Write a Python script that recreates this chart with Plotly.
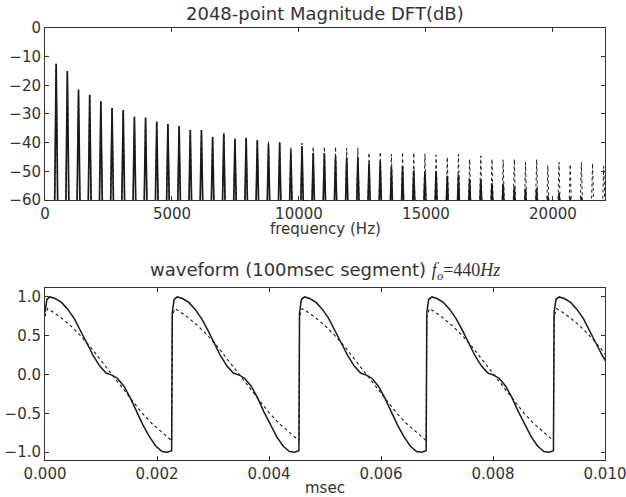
import plotly.graph_objects as go
from plotly.subplots import make_subplots

# ---------------- data ----------------
harmonic_hz = [440, 880, 1320, 1760, 2200, 2640, 3080, 3520, 3960, 4400,
               4840, 5280, 5720, 6160, 6600, 7040, 7480, 7920, 8360, 8800,
               9240, 9680, 10120, 10560, 11000, 11440, 11880, 12320, 12760, 13200,
               13640, 14080, 14520, 14960, 15400, 15840, 16280, 16720, 17160, 17600,
               18040, 18480, 18920, 19360, 19800, 20240, 20680, 21120, 21560, 22000]

solid_db = [-12.5, -15.0, -21.5, -23.3, -25.6, -27.9, -28.6, -31.0, -31.2, -32.6,
            -33.5, -34.2, -35.6, -35.6, -38.1, -36.7, -38.8, -38.3, -39.1, -40.6,
            -40.0, -42.9, -41.2, -43.5, -43.6, -44.8, -45.2, -45.1, -47.2, -46.7,
            -48.5, -48.4, -49.6, -50.1, -49.9, -51.6, -51.1, -52.8, -53.0, -54.2,
            -54.5, -55.3, -56.0, -55.9, -58.5, -57.6, -59.0, -58.8, -61.0, -62.0]

dotted_db = [-12.8, -15.3, -21.8, -23.5, -25.9, -28.2, -28.9, -31.3, -31.5, -32.9,
             -33.8, -34.5, -35.9, -35.9, -38.0, -37.0, -38.5, -38.5, -39.0, -39.5,
             -39.9, -41.4, -40.2, -41.4, -41.4, -41.4, -41.9, -41.8, -43.5, -43.2,
             -44.0, -43.3, -43.5, -43.9, -44.3, -45.1, -44.1, -45.8, -44.6, -45.7,
             -46.0, -45.8, -46.9, -45.9, -48.0, -46.8, -47.5, -46.9, -47.2, -48.2]

# waveform: jump instants and one period shape (phase of period -> amplitude)
period_starts = [0.0, 0.002273, 0.004545, 0.006818, 0.009091]
period_len = 0.002273
solid_phase = [0.0, 0.015, 0.04, 0.08, 0.13, 0.18, 0.23, 0.28, 0.33, 0.38, 0.43, 0.48,
               0.53, 0.57, 0.62, 0.67, 0.72, 0.77, 0.82, 0.87, 0.92, 0.96, 0.995]
solid_wave = [0.80, 0.97, 1.00, 0.98, 0.93, 0.84, 0.72, 0.57, 0.40, 0.24, 0.11, 0.02,
              -0.01, -0.05, -0.15, -0.30, -0.48, -0.65, -0.80, -0.92, -0.99, -1.00, -0.98]
dotted_phase = [0.0, 0.02, 0.06, 0.12, 0.20, 0.28, 0.36, 0.44, 0.52, 0.60, 0.68, 0.76,
                0.84, 0.92, 0.97, 0.995]
dotted_wave = [0.75, 0.85, 0.81, 0.74, 0.63, 0.50, 0.35, 0.18, 0.01, -0.16, -0.33, -0.49,
               -0.63, -0.75, -0.82, -0.85]

freq_ticks = [0, 5000, 10000, 15000, 20000]
db_ticks = [0, -10, -20, -30, -40, -50, -60]
time_ticks = [0.0, 0.002, 0.004, 0.006, 0.008, 0.010]
amp_ticks = [-1.0, -0.5, 0.0, 0.5, 1.0]

# ---------------- figure ----------------
INK = "#1a1a1a"
LOBE_HZ = 70      # half width of each spectral lobe at its base
BASE_DB = -70     # lobe base (below the visible floor)


def lobes(freqs, peaks):
    xs, ys = [], []
    for f, p in zip(freqs, peaks):
        xs += [f - LOBE_HZ, f, f + LOBE_HZ, None]
        ys += [BASE_DB, p, BASE_DB, None]
    return xs, ys


def tile(phases, values):
    xs, ys = [], []
    for s in period_starts:
        for ph, v in zip(phases, values):
            xs.append(s + ph * period_len)
            ys.append(v)
    return xs, ys


fig = make_subplots(rows=2, cols=1)

dx, dy = lobes(harmonic_hz, dotted_db)
fig.add_trace(go.Scatter(x=dx, y=dy, mode="lines",
                         line=dict(color=INK, width=1, dash="dot")), row=1, col=1)
sx, sy = lobes(harmonic_hz, solid_db)
fig.add_trace(go.Scatter(x=sx, y=sy, mode="lines",
                         line=dict(color=INK, width=1.7)), row=1, col=1)

wx, wy = tile(dotted_phase, dotted_wave)
fig.add_trace(go.Scatter(x=wx, y=wy, mode="lines",
                         line=dict(color=INK, width=1.1, dash="dot")), row=2, col=1)
wx, wy = tile(solid_phase, solid_wave)
fig.add_trace(go.Scatter(x=wx, y=wy, mode="lines",
                         line=dict(color=INK, width=1.5)), row=2, col=1)

axis_common = dict(showgrid=False, zeroline=False, showline=True, linecolor="#333",
                   linewidth=1, mirror="ticks", ticks="inside", ticklen=4,
                   tickcolor="#333", automargin=False, ticklabeloverflow="allow",
                   tickfont=dict(family="DejaVu Sans", size=15, color="#333"))

fig.update_xaxes(range=[0, 22050], tickvals=freq_ticks,
                 ticktext=[str(v) for v in freq_ticks], row=1, col=1, **axis_common)
fig.update_yaxes(range=[-60, 0], tickvals=db_ticks, row=1, col=1, **axis_common)
fig.update_xaxes(range=[0, 0.0100001], tickvals=time_ticks,
                 ticktext=["%.3f" % v for v in time_ticks], row=2, col=1, **axis_common)
fig.update_yaxes(range=[-1.1, 1.115], tickvals=amp_ticks,
                 ticktext=[("%.1f" % v).replace("-", "\u2212") for v in amp_ticks],
                 row=2, col=1, **axis_common)

fig.update_layout(
    width=626, height=497,
    margin=dict(l=45, r=21, t=28, b=37, autoexpand=False),
    plot_bgcolor="white", paper_bgcolor="white",
    showlegend=False, hovermode=False,
    font=dict(family="DejaVu Sans", color="#333"),
)
fig.layout.yaxis.domain = [0.6019, 1.0]
fig.layout.yaxis2.domain = [0.0, 0.3981]

fig.add_annotation(text="2048-point Magnitude DFT(dB)", xref="paper", yref="paper",
                   x=0.5, y=1.0347, xanchor="center", yanchor="middle", showarrow=False,
                   font=dict(family="DejaVu Sans", size=18, color="#333"))
fig.add_annotation(text="frequency (Hz)", xref="paper", yref="paper",
                   x=0.5, y=0.535, xanchor="center", yanchor="middle", showarrow=False,
                   font=dict(family="DejaVu Sans", size=15, color="#333"))
fig.add_annotation(
    text='waveform (100msec segment) <span style="font-family:Liberation Serif">'
         '<i>f</i><sub><i>o</i></sub>=440<i>Hz</i></span>',
    xref="paper", yref="paper", x=0.5, y=0.4375, xanchor="center", yanchor="middle",
    showarrow=False, font=dict(family="DejaVu Sans", size=18, color="#333"))
fig.add_annotation(text="msec", xref="paper", yref="paper",
                   x=0.5, y=-0.0648, xanchor="center", yanchor="middle", showarrow=False,
                   font=dict(family="DejaVu Sans", size=15, color="#333"))

# remove the browser's default 8px body margin so the figure fills the window
fig.write_html("out.html", config={"displayModeBar": False},
               post_script="document.body.style.margin='0';")
